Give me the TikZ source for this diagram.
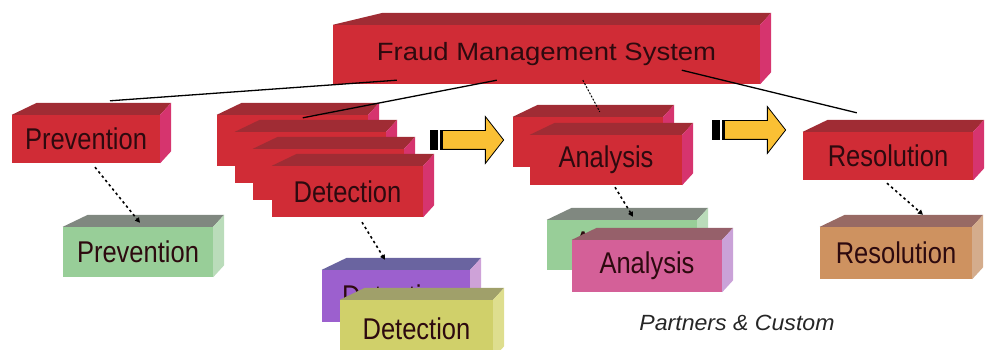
\documentclass[tikz,border=0pt]{standalone}
\usepackage{fontspec}
\setmainfont{Liberation Sans}
\newfontfamily\boxfont{Liberation Sans}[FakeStretch=0.85]
\newfontfamily\titlefont{Liberation Sans}[FakeStretch=1.1]
\newfontfamily\notefont{Liberation Sans}[FakeStretch=1.05]
\usepackage{tikz}
\usetikzlibrary{arrows.meta,shapes.arrows}
\usepackage{xcolor}
\definecolor{redF}{RGB}{208,44,54}
\definecolor{redT}{RGB}{160,44,52}
\definecolor{redS}{RGB}{214,52,110}
\definecolor{greenF}{RGB}{152,206,152}
\definecolor{greenT}{RGB}{128,136,128}
\definecolor{greenS}{RGB}{186,220,186}
\definecolor{violetF}{RGB}{156,96,206}
\definecolor{violetT}{RGB}{106,100,160}
\definecolor{violetS}{RGB}{206,162,216}
\definecolor{oliveF}{RGB}{208,208,106}
\definecolor{oliveT}{RGB}{160,160,106}
\definecolor{oliveS}{RGB}{222,222,142}
\definecolor{pinkF}{RGB}{212,96,152}
\definecolor{pinkT}{RGB}{150,96,106}
\definecolor{pinkS}{RGB}{202,162,216}
\definecolor{brownF}{RGB}{206,146,96}
\definecolor{brownT}{RGB}{152,106,100}
\definecolor{brownS}{RGB}{212,172,140}
\definecolor{pushY}{RGB}{250,192,52}
\definecolor{ink}{RGB}{45,10,15}
% 3d block: [bevel]{colour}{name}{centre}{width}{height}{label}
\newcommand{\blockbox}[7][25]{%
  \node[face,fill=#2F,minimum width=#5pt,minimum height=#6pt] (#3) at (#4) {#7};
  \fill[#2T] (#3.north west) -- ++(#1,-12) -- ([shift={(11,-12)}]#3.north east) -- (#3.north east) -- cycle;
  \fill[#2S] (#3.north east) -- ++(11,-12) -- ([shift={(11,-12)}]#3.south east) -- (#3.south east) -- cycle;
}

\begin{document}
\begin{tikzpicture}[x=1pt,y=-1pt,>={Triangle[length=5pt,width=5pt]},
  face/.style={inner sep=0pt,text=ink,font=\boxfont\fontsize{30}{30}\selectfont},
  push/.style={single arrow,draw=black,fill=pushY,line width=0.8pt,inner xsep=0pt,inner ysep=9pt,
    minimum height=73pt,single arrow head extend=14pt,single arrow tip angle=104},
  dotlink/.style={->,line width=1.6pt,dash pattern=on 2.5pt off 3pt}]
\clip (0,0) rectangle (985,350);
% top level
\blockbox[50]{red}{fms}{546.5,54.5}{427}{59}{\titlefont\fontsize{25}{25}\selectfont Fraud Management System}
\blockbox{red}{prevR}{86,139}{148}{48}{Prevention}
\blockbox{red}{det1}{292.5,140.5}{151}{51}{}
\blockbox{red}{det2}{310.5,157.5}{151}{51}{}
\blockbox{red}{det3}{328.5,174.5}{151}{51}{}
\blockbox{red}{det4}{347.5,191.5}{151}{51}{Detection}
\blockbox{red}{anaR1}{588,142}{150}{50}{}
\blockbox{red}{anaR2}{606,160}{152}{50}{Analysis}
\blockbox{red}{resR}{888,156}{170}{48}{Resolution}
% lower level
\blockbox{green}{prevG}{138,252}{150}{50}{Prevention}
\blockbox{violet}{detP}{396,296}{148}{52}{Detection}
\blockbox{olive}{detY}{416.5,329}{153}{58}{Detection}
\blockbox{green}{anaG}{622,245}{150}{50}{Analysis}
\blockbox{pink}{anaP}{647,266}{150}{52}{Analysis}
\blockbox{brown}{resB}{896,253}{152}{52}{Resolution}
% flow arrows
\node[push] (push1) at (463.5,140) {};
\node[push] (push2) at (745.5,130) {};
\foreach \p in {push1,push2}{
  \fill[black] (\p.before tail) rectangle ([xshift=8pt]\p.after tail);
  \fill[white] ([xshift=8pt]\p.before tail) rectangle ([xshift=10pt]\p.after tail);
  \fill[black] ([xshift=10pt]\p.before tail) rectangle ([xshift=12.5pt]\p.after tail);
}
% links from the system
\draw[line width=1.3pt] ([shift={(64,-4)}]fms.south west) -- ([shift={(24,-14)}]prevR.north);
\draw[line width=1.3pt] ([shift={(164,-4)}]fms.south west) -- ([shift={(86,3)}]det1.north west);
\draw[line width=1pt,dash pattern=on 2pt off 1.5pt] ([shift={(250,-4)}]fms.south west) -- ([shift={(87,-5)}]anaR1.north west);
\draw[line width=1.3pt] ([shift={(349,-14)}]fms.south west) -- ([shift={(54,-19)}]resR.north west);
% partner links
\draw[dotlink] ([shift={(9,4)}]prevR.south) -- ([shift={(2,-4)}]prevG.north);
\draw[dotlink] ([shift={(14.5,5)}]det4.south) -- ([shift={(-11,-10)}]detP.north);
\draw[dotlink] ([shift={(9,2)}]anaR2.south) -- ([shift={(11,-3)}]anaG.north);
\draw[dotlink] ([shift={(-1,3)}]resR.south) -- ([shift={(27,-12)}]resB.north);
\node[font=\notefont\itshape\fontsize{22}{22}\selectfont,text=black!85] (partners) at (737,323) {Partners \& Custom};
\end{tikzpicture}
\end{document}
